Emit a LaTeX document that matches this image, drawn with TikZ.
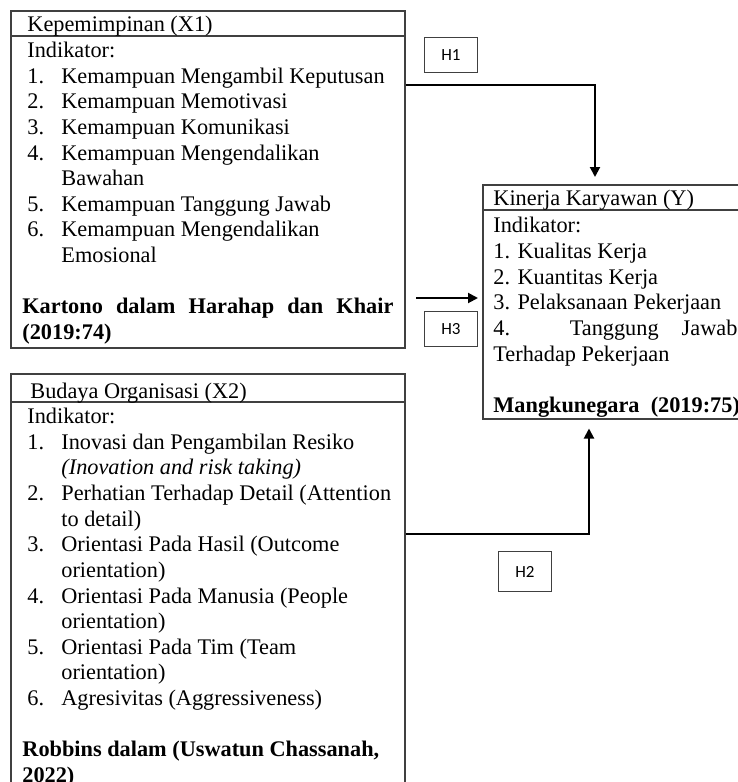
\documentclass[tikz,border=0pt]{standalone}
\usepackage{fontspec}
\setmainfont{Liberation Serif}
\newfontfamily\hfont{Carlito}
\usetikzlibrary{arrows.meta,calc}
\newcommand{\bodyfont}{\fontsize{11.15pt}{12.8pt}\selectfont}

\begin{document}
\begin{tikzpicture}[x=0.5pt, y=-0.5pt,
  box/.style={draw=black!75, line width=0.75pt, inner sep=0pt, anchor=north west},
  hyp/.style={draw=black!75, line width=0.5pt, inner sep=0pt, anchor=north west,
    minimum width=26.5pt, minimum height=17.5pt, font=\hfont\fontsize{8.5pt}{10pt}\selectfont},
  txt/.style={anchor=base west, inner sep=0pt, font=\bodyfont},
  link/.style={line width=1pt, -{Triangle[length=5pt, width=5pt]}}]

  \useasboundingbox (0,0) rectangle (738,782);
  \clip (0,0) rectangle (738,782);

  % Variable boxes with their title rules
  \node[box, minimum width=197pt, minimum height=168.5pt] (kep) at (10,10) {};
  \node[box, minimum width=197pt, minimum height=220pt] (bud) at (10,373) {};
  \node[box, minimum width=135pt, minimum height=117pt] (kin) at (482,184) {};
  \draw[black!75, line width=0.75pt] (10,36) -- (404,36);
  \draw[black!75, line width=0.75pt] (10,402) -- (404,402);
  \draw[black!75, line width=0.75pt] (482,210) -- (752,210);

  % Kepemimpinan (X1)
  \node[txt] (kept) at (27,31) {Kepemimpinan (X1)};
  \node[txt] (kepi) at (27,57) {Indikator:};
  \foreach \n/\yy/\t in {1./83/Kemampuan Mengambil Keputusan, 2./108/Kemampuan Memotivasi,
      3./134/Kemampuan Komunikasi, 4./160/Kemampuan Mengendalikan, /185/Bawahan,
      5./211/Kemampuan Tanggung Jawab, 6./236/Kemampuan Mengendalikan, /262/Emosional}
    \node[txt] (kep\yy) at (27,\yy) {\makebox[17pt][l]{\n}\t};
  \node[txt] (keps) at (22,313) {\bfseries\makebox[185.5pt][s]{Kartono dalam Harahap dan Khair}};
  \node[txt] (kepy) at (22,339) {\bfseries (2019:74)};

  % Budaya Organisasi (X2)
  \node[txt] (budt) at (30,398) {Budaya Organisasi (X2)};
  \node[txt] (budi) at (27,423) {Indikator:};
  \foreach \n/\yy/\t in {1./449/Inovasi dan Pengambilan Resiko, /474/{\itshape (Inovation and risk taking)},
      2./500/Perhatian Terhadap Detail (Attention, /526/to detail),
      3./551/Orientasi Pada Hasil (Outcome, /577/orientation),
      4./603/Orientasi Pada Manusia (People, /628/orientation),
      5./654/Orientasi Pada Tim (Team, /679/orientation),
      6./705/Agresivitas (Aggressiveness)}
    \node[txt] (bud\yy) at (27,\yy) {\makebox[17pt][l]{\n}\t};
  \node[txt] (buds) at (22,756) {\bfseries Robbins dalam (Uswatun Chassanah,};
  \node[txt] (budy) at (22,782) {\bfseries 2022)};

  % Kinerja Karyawan (Y)
  \node[txt] (kint) at (493,205) {Kinerja Karyawan (Y)};
  \node[txt] (kini) at (493,232) {Indikator:};
  \foreach \yy/\t in {258/1. Kualitas Kerja, 284/2. Kuantitas Kerja, 309/3. Pelaksanaan Pekerjaan}
    \node[txt] (kin\yy) at (493,\yy) {\t};
  \node[txt] (kin335) at (493,335) {\makebox[122pt][s]{4. Tanggung Jawab}};
  \node[txt] (kin361) at (493,361) {Terhadap Pekerjaan};
  \node[txt] (kins) at (493,412) {\bfseries Mangkunegara\ \ (2019:75)};

  % Hypothesis labels
  \node[hyp] (h1) at (424,37) {H1};
  \node[hyp] (h3) at (424,311) {H3};
  \node[hyp, minimum height=20pt] (h2) at (498,551) {H2};

  % Paths to Y
  \coordinate (h1a) at (kep.east |- 0,85);
  \coordinate (h1b) at ($(kin.north -| 595,0)+(0,-7)$);
  \draw[link] (h1a) -| (h1b);
  \coordinate (h2a) at (bud.east |- 0,534);
  \coordinate (h2b) at ($(kin.south -| 589,0)+(0,9)$);
  \draw[link] (h2a) -| (h2b);
  \coordinate (h3a) at (416,298);
  \draw[link] (h3a) -- ($(kin.west |- h3a)+(-4,0)$);
\end{tikzpicture}
\end{document}
